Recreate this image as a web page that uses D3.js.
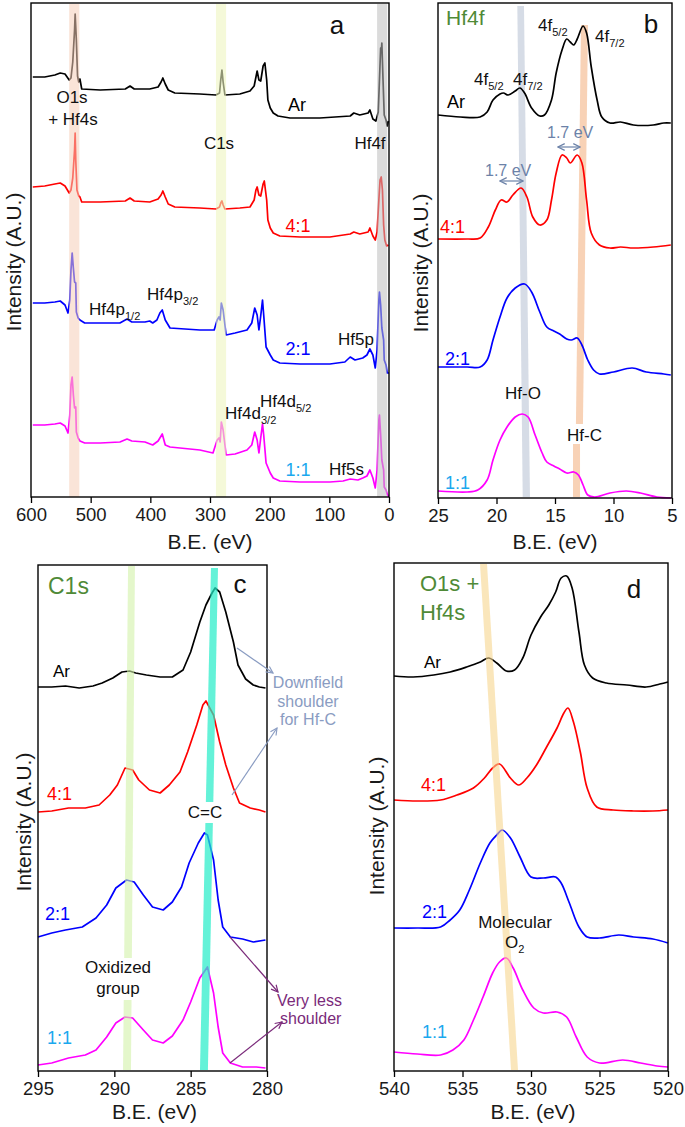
<!DOCTYPE html>
<html><head><meta charset="utf-8">
<script src="https://cdn.jsdelivr.net/npm/d3@7"></script>
<style>body{margin:0;background:#fff} svg{display:block;font-family:"Liberation Sans",Arial,sans-serif}</style>
</head><body><script>
// ---------- categories ----------
const samples = ["Ar", "4:1", "2:1", "1:1"];
const sampleColors = ["#000000", "#ff0000", "#0000ff", "#ff00ff"];
const labelColors = ["#000000", "#ff0000", "#0000ff", "#1aa8ee"];

// ---------- tick labels ----------
const ticksA = [600, 500, 400, 300, 200, 100, 0];
const ticksB = [25, 20, 15, 10, 5];
const ticksC = [295, 290, 285, 280];
const ticksD = [540, 535, 530, 525, 520];

// ---------- panel a: survey [B.E. eV, intensity a.u.] ----------
const surveyAr = [[597,420],[577,420],[560,422],[551,424],[543,423],[536,417],[533,419],[530,435],[527,467],[526,483],[524,457],[522,421],[520,415],[518,418],[515,408],[484,407],[442,408],[434,411],[427,408],[401,408],[387,410],[382,415],[379,419],[375,413],[370,407],[359,404],[317,403],[290,402],[284,404],[282,417],[280,427],[278,415],[275,402],[250,403],[233,406],[226,411],[221,426],[218,417],[215,416],[211,431],[208,434],[205,417],[203,397],[199,389],[194,384],[186,381],[166,379],[116,379],[65,381],[59,384],[49,382],[35,384],[32,387],[27,378],[22,376],[18,385],[16,417],[14,449],[13,445],[12,454],[10,417],[8,382],[5,377],[3,371],[1,376]];
const survey41 = [[597,310],[577,311],[560,313],[551,314],[543,311],[536,304],[533,307],[530,319],[527,347],[526,364],[525,337],[523,307],[520,301],[518,300],[515,295],[484,295],[442,296],[434,299],[427,296],[401,295],[387,298],[382,302],[379,306],[375,300],[370,293],[359,290],[317,289],[290,288],[284,290],[282,294],[280,296],[278,292],[275,288],[250,289],[233,290],[226,297],[223,307],[221,310],[218,302],[215,301],[211,313],[209,316],[205,297],[203,277],[199,269],[194,264],[183,261],[149,260],[99,260],[65,263],[59,265],[49,263],[35,265],[32,269],[27,261],[23,257],[20,265],[17,297],[15,317],[13,320],[11,307],[9,272],[7,257],[4,251],[1,252]];
const survey21 = [[597,194],[577,194],[560,195],[551,196],[543,192],[538,184],[535,197],[533,227],[531,244],[529,229],[527,215],[525,214],[524,185],[521,179],[518,177],[510,174],[484,174],[451,174],[439,178],[431,175],[409,175],[401,176],[396,174],[389,177],[384,184],[380,187],[375,177],[367,169],[317,167],[293,167],[288,177],[285,180],[283,177],[281,194],[278,187],[273,162],[258,164],[238,167],[230,174],[225,189],[221,182],[218,167],[215,181],[212,197],[210,182],[206,150],[199,142],[194,137],[183,134],[149,133],[99,133],[74,135],[65,140],[57,137],[44,139],[37,142],[32,148],[27,142],[23,129],[20,147],[17,197],[16,205],[14,192],[12,169],[9,157],[8,137],[5,132],[3,124],[0,124]];
const survey11 = [[597,72],[577,72],[560,73],[551,74],[543,71],[538,64],[535,82],[533,112],[531,120],[529,102],[527,89],[525,90],[524,65],[521,59],[518,56],[510,54],[484,54],[451,55],[439,58],[431,56],[409,55],[396,52],[387,56],[380,63],[375,52],[367,50],[317,47],[295,44],[288,57],[285,59],[283,55],[281,75],[278,67],[273,42],[258,43],[238,47],[230,52],[225,65],[221,57],[218,44],[215,59],[212,73],[210,62],[206,34],[199,24],[194,19],[183,16],[149,15],[99,15],[77,16],[65,18],[52,17],[44,19],[37,21],[32,27],[27,19],[23,9],[20,27],[17,77],[16,82],[14,62],[12,37],[9,27],[8,10],[5,7],[3,3],[0,0]];

// ---------- panel b: Hf4f ----------
const hf4fAr = [[25.0,383],[23.1,381],[21.4,381],[20.8,386],[20.3,398],[19.7,404],[19.4,405],[19.0,403],[18.4,407],[18.0,410],[17.6,405],[17.0,390],[16.3,382],[15.9,383],[15.3,398],[14.9,425],[14.4,448],[14.0,459],[13.7,456],[13.4,453],[13.1,459],[12.6,472],[12.3,465],[11.9,431],[11.4,398],[11.0,381],[10.3,375],[9.4,376],[8.3,373],[6.6,373],[5.7,375],[5.1,375]];
const hf4f41 = [[25.0,259],[22.5,259],[21.4,260],[20.7,271],[20.1,288],[19.6,298],[19.1,296],[18.6,303],[17.9,310],[17.4,301],[16.9,281],[16.3,273],[15.7,278],[15.3,298],[14.9,325],[14.4,343],[14.0,340],[13.7,335],[13.1,343],[12.7,335],[12.3,298],[11.9,265],[11.2,253],[10.3,250],[9.4,251],[8.3,250],[6.6,251],[5.1,253]];
const hf4f21 = [[25.0,131],[22.5,131],[21.4,131],[20.8,138],[20.3,158],[19.7,181],[19.1,200],[18.4,210],[17.6,214],[17.0,206],[16.3,186],[15.7,171],[15.1,167],[14.6,164],[14.0,159],[13.6,158],[13.1,160],[12.7,153],[12.2,138],[11.7,128],[11.2,124],[10.0,126],[8.4,130],[7.2,126],[5.7,124],[5.1,123]];
const hf4f11 = [[25.0,7],[22.5,6],[21.6,8],[20.8,18],[20.3,38],[19.7,58],[19.1,71],[18.4,81],[17.8,84],[17.3,81],[16.7,63],[16.1,45],[15.7,36],[15.1,32],[14.6,29],[14.0,25],[13.4,26],[13.0,23],[12.6,13],[12.2,3],[11.6,1],[10.3,5],[8.9,7],[7.7,5],[6.3,1],[5.1,0]];

// ---------- panel c: C1s ----------
const c1sAr = [[295.0,384],[294.1,384],[293.2,385],[292.3,383],[291.4,385],[290.8,388],[290.1,393],[289.5,399],[289.0,400],[288.6,398],[287.9,396],[287.0,394],[286.2,394],[285.5,401],[285.0,419],[284.4,449],[284.0,466],[283.6,478],[283.4,483],[283.1,479],[282.7,459],[282.2,429],[281.9,406],[281.4,392],[280.9,386],[280.5,384],[280.1,383]];
const c1s41 = [[295.0,259],[294.1,260],[293.0,263],[291.9,263],[291.0,266],[290.3,276],[289.8,286],[289.3,303],[288.8,301],[288.4,291],[287.7,281],[287.0,278],[286.4,286],[285.7,299],[285.2,319],[284.6,346],[284.2,366],[284.0,370],[283.5,356],[283.1,329],[282.7,306],[282.2,283],[281.8,268],[281.1,263],[280.5,261],[280.1,259]];
const c1s21 = [[295.0,134],[294.1,138],[293.2,141],[292.1,144],[291.2,153],[290.5,166],[289.9,183],[289.2,191],[288.7,189],[288.1,176],[287.5,164],[286.8,161],[286.2,169],[285.6,184],[285.1,208],[284.5,228],[284.1,238],[283.9,236],[283.5,211],[283.2,171],[282.9,144],[282.4,134],[281.6,132],[280.9,129],[280.1,131]];
const c1s11 = [[295.0,6],[294.1,8],[293.0,13],[291.9,16],[291.2,21],[290.5,34],[289.9,48],[289.3,54],[288.8,53],[288.1,41],[287.5,31],[286.8,28],[286.2,35],[285.5,51],[285.0,69],[284.4,93],[283.9,104],[283.5,78],[283.2,44],[282.9,18],[282.4,8],[281.6,4],[280.7,4],[280.1,3]];

// ---------- panel d: O1s + Hf4s ----------
const o1sAr = [[540,395],[538.6,394],[537.1,396],[535.9,399],[534.7,404],[533.7,409],[533.1,413],[532.5,408],[531.8,400],[531.2,401],[530.6,413],[530.0,436],[529.3,454],[528.7,466],[528.2,479],[527.8,493],[527.4,495],[527.0,483],[526.5,439],[526.1,406],[525.5,393],[524.5,388],[523.0,386],[521.6,384],[520.6,387],[520.0,389]];
const o1s41 = [[540,271],[538.3,270],[536.6,271],[535.4,276],[534.2,283],[533.4,293],[532.8,303],[532.3,307],[531.5,293],[530.9,286],[530.3,293],[529.6,306],[528.9,323],[528.1,343],[527.6,358],[527.3,363],[526.9,349],[526.4,319],[525.9,283],[525.2,264],[524.0,261],[522.5,260],[521.1,260],[520.0,261]];
const o1s21 = [[540,143],[538.3,143],[536.6,144],[535.9,151],[535.2,161],[534.5,181],[533.7,208],[533.0,228],[532.5,236],[532.1,241],[531.5,233],[530.8,214],[530.0,194],[529.1,193],[528.2,194],[527.8,188],[527.2,168],[526.5,144],[525.9,134],[525.0,133],[523.6,136],[522.5,134],[521.1,132],[520.0,128]];
const o1s11 = [[540,19],[538.3,17],[536.6,16],[535.7,21],[534.9,31],[534.2,51],[533.5,74],[532.8,98],[532.3,109],[531.8,113],[531.3,103],[530.6,81],[529.8,63],[529.1,58],[528.1,59],[527.4,54],[526.7,34],[525.9,14],[525.0,8],[523.3,11],[522.0,8],[520.8,5],[520.0,4]];

// ---------- highlighted B.E. bands [eV at top left, top right, bottom left, bottom right] ----------
const bandsA = [[536,519,536,519],[290,273,290,273],[20,3,20,3]];
const bandsB = [[18.22,17.65,17.76,17.14]];
const bandsBorange = [[12.78,12.18,13.21,12.61],[13.46,12.86,13.46,12.86]];
const bandsC = [[289.1,288.65,289.43,288.91],[283.67,283.21,284.39,283.87]];
const bandsD = [[533.72,533.21,531.46,530.95]];

// =====================================================
const W = 685, H = 1127;
const FS = 17;           // annotation font size
const FS_S = 18;         // sample label font size
const svg = d3.select("body").append("svg").attr("width", W).attr("height", H);
const defs = svg.append("defs");
function marker(id, color){
  defs.append("marker").attr("id", id).attr("viewBox","0 0 10 10").attr("refX",9).attr("refY",5)
    .attr("markerWidth",7).attr("markerHeight",7).attr("orient","auto-start-reverse")
    .append("path").attr("d","M1,1 L9,5 L1,9").attr("fill","none").attr("stroke",color).attr("stroke-width",1.4);
}
marker("arrGray", "#8a9cc2");
marker("arrPurple", "#7a2a7a");
marker("arrSlate", "#6c82a8");

function panel(cfg){
  const x = d3.scaleLinear().domain(cfg.xDomain).range([cfg.left, cfg.right]);
  const y = d3.scaleLinear().domain(cfg.yDomain).range([cfg.bottom, cfg.top]);
  const g = svg.append("g");
  const line = d3.line().x(d => x(d[0])).y(d => y(d[1])).curve(cfg.curve);
  function drawBands(list, color, op, yTop, yBot){
    list.forEach(b => {
      g.append("path")
        .attr("d", `M${x(b[0])},${yTop} L${x(b[1])},${yTop} L${x(b[3])},${yBot} L${x(b[2])},${yBot} Z`)
        .attr("fill", color).attr("opacity", op);
    });
  }
  cfg.under && cfg.under(drawBands, x, y, g);
  cfg.series.forEach((s, i) => {
    g.append("path").datum(s).attr("d", line).attr("fill", "none")
      .attr("stroke", sampleColors[i]).attr("stroke-width", 1.7).attr("stroke-linejoin","round");
  });
  cfg.over && cfg.over(drawBands, x, y, g);
  g.append("rect").attr("x", cfg.left).attr("y", cfg.top)
    .attr("width", cfg.right - cfg.left).attr("height", cfg.bottom - cfg.top)
    .attr("fill", "none").attr("stroke", "#000").attr("stroke-width", 1.4);
  const ax = g.append("g").attr("transform", `translate(0,${cfg.bottom})`)
    .call(d3.axisBottom(x).tickValues(cfg.ticks).tickSize(6).tickPadding(5).tickFormat(d3.format("d")));
  ax.select(".domain").remove();
  ax.selectAll("line").attr("stroke", "#000").attr("stroke-width", 1.3);
  ax.selectAll("text").attr("font-size", 18.5).attr("fill", "#1a1a1a").attr("font-family", "Liberation Sans, Arial, sans-serif");
  g.append("text").attr("x", (cfg.left + cfg.right) / 2 + (cfg.xlabDx || 0)).attr("y", cfg.xlabY)
    .attr("text-anchor", "middle").attr("font-size", 21).attr("fill", "#1a1a1a").text("B.E. (eV)");
  g.append("text").attr("transform", `translate(${cfg.ylabX},${cfg.ylabY}) rotate(-90)`)
    .attr("text-anchor", "middle").attr("font-size", 21).attr("fill", "#1a1a1a").text("Intensity (A.U.)");
  return g;
}

function txt(g, x, y, parts, opts = {}){
  const size = opts.size || FS;
  const t = g.append("text").attr("x", x).attr("y", y)
    .attr("font-size", size).attr("fill", opts.color || "#111")
    .attr("text-anchor", opts.anchor || "start");
  let sub = false;
  parts.forEach(p => {
    const isSub = Array.isArray(p);
    const s = isSub ? p[0] : p;
    const ts = t.append("tspan").text(s);
    if (isSub && !sub) { ts.attr("dy", 5).attr("font-size", size * 0.65); sub = true; }
    else if (isSub) { ts.attr("font-size", size * 0.65); }
    else if (!isSub && sub) { ts.attr("dy", -5); sub = false; }
  });
  return t;
}
function arrow(g, x1, y1, x2, y2, color, id, both){
  const l = g.append("line").attr("x1", x1).attr("y1", y1).attr("x2", x2).attr("y2", y2)
    .attr("stroke", color).attr("stroke-width", 1.2).attr("marker-end", `url(#${id})`);
  if (both) l.attr("marker-start", `url(#${id})`);
}

// ---------------- Panel a ----------------
const gA = panel({
  xDomain: [600, 0], left: 31, right: 389, yDomain: [0, 494], top: 3, bottom: 497,
  series: [surveyAr, survey41, survey21, survey11], curve: d3.curveLinear, ticks: ticksA,
  xlabY: 549, xlabDx: 0, ylabX: 21, ylabY: 262,
  over: (draw) => {
    draw([bandsA[0]], "#f5cdb8", 0.55, 4, 497);
    draw([bandsA[1]], "#eef5bf", 0.6, 4, 497);
    draw([bandsA[2]], "#bdbdbd", 0.55, 4, 497);
  }
});
txt(gA, 337, 34, ["a"], {size: 26, anchor: "middle"});
txt(gA, 72, 103, ["O1s"], {anchor: "middle"});
txt(gA, 73, 125, ["+ Hf4s"], {anchor: "middle"});
txt(gA, 297, 111, [samples[0]], {anchor: "middle", size: FS_S, color: labelColors[0]});
txt(gA, 219, 149, ["C1s"], {anchor: "middle"});
txt(gA, 370, 149, ["Hf4f"], {anchor: "middle"});
txt(gA, 298, 232, [samples[1]], {anchor: "middle", size: FS_S, color: labelColors[1]});
txt(gA, 89, 315, ["Hf4p", ["1/2"]]);
txt(gA, 147, 300, ["Hf4p", ["3/2"]]);
txt(gA, 298, 355, [samples[2]], {anchor: "middle", size: FS_S, color: labelColors[2]});
txt(gA, 338, 345, ["Hf5p"]);
txt(gA, 260, 407, ["Hf4d", ["5/2"]]);
txt(gA, 225, 419, ["Hf4d", ["3/2"]]);
txt(gA, 298, 476, [samples[3]], {anchor: "middle", size: FS_S, color: labelColors[3]});
txt(gA, 329, 475, ["Hf5s"]);

// ---------------- Panel b ----------------
const gB = panel({
  xDomain: [25, 5], left: 438, right: 672, yDomain: [0, 495], top: 3, bottom: 498,
  series: [hf4fAr, hf4f41, hf4f21, hf4f11], curve: d3.curveCatmullRom.alpha(0.5), ticks: ticksB,
  xlabY: 549, xlabDx: 0, ylabX: 428, ylabY: 263,
  under: (draw, x, y, g) => {
    draw(bandsB, "#d6dce6", 1, 6, 497);
    draw([bandsBorange[0]], "#f8d2b6", 1, 25, 424);
    draw([bandsBorange[1]], "#f8d2b6", 1, 444, 497);
  }
});
txt(gB, 446, 25, ["Hf4f"], {size: 21, color: "#4f8a37"});
txt(gB, 651, 33, ["b"], {size: 26, anchor: "middle"});
txt(gB, 538, 31, ["4f", ["5/2"]]);
txt(gB, 595, 42, ["4f", ["7/2"]]);
txt(gB, 474, 85, ["4f", ["5/2"]]);
txt(gB, 513, 85, ["4f", ["7/2"]]);
txt(gB, 447, 108, [samples[0]], {size: FS_S, color: labelColors[0]});
txt(gB, 547, 138, ["1.7 eV"], {size: 16, color: "#6c82a8"});
arrow(gB, 558, 147, 580, 147, "#6c82a8", "arrSlate", true);
txt(gB, 485, 176, ["1.7 eV"], {size: 16, color: "#6c82a8"});
arrow(gB, 500, 181, 523, 181, "#6c82a8", "arrSlate", true);
txt(gB, 440, 233, [samples[1]], {size: FS_S, color: labelColors[1]});
txt(gB, 445, 365, [samples[2]], {size: FS_S, color: labelColors[2]});
txt(gB, 505, 399, ["Hf-O"]);
txt(gB, 567, 441, ["Hf-C"]);
txt(gB, 445, 489, [samples[3]], {size: FS_S, color: labelColors[3]});

// ---------------- Panel c ----------------
const gC = panel({
  xDomain: [295, 280], left: 38, right: 267, yDomain: [0, 506], top: 565, bottom: 1071,
  series: [c1sAr, c1s41, c1s21, c1s11], curve: d3.curveLinear, ticks: ticksC,
  xlabY: 1119, xlabDx: 2, ylabX: 31, ylabY: 822,
  over: (draw, x, y, g) => {
    draw([bandsC[0]], "#d2f2a8", 0.6, 566, 1070);
    draw([bandsC[1]], "#22ecc8", 0.7, 568, 1070);
    g.append("rect").attr("x", 82).attr("y", 958).attr("width", 74).attr("height", 42).attr("fill", "#fff");
    g.append("rect").attr("x", 184).attr("y", 802).attr("width", 42).attr("height", 21).attr("fill", "#fff");
  }
});
txt(gC, 48, 594, ["C1s"], {size: 23, color: "#4f8a37"});
txt(gC, 240, 593, ["c"], {size: 26, anchor: "middle"});
txt(gC, 53, 677, [samples[0]], {size: 17, color: labelColors[0]});
txt(gC, 47, 800, [samples[1]], {size: FS_S, color: labelColors[1]});
txt(gC, 205, 818, ["C=C"], {anchor: "middle"});
txt(gC, 308, 688, ["Downfield"], {size: 16, anchor: "middle", color: "#8a9cc2"});
txt(gC, 308, 707, ["shoulder"], {size: 16, anchor: "middle", color: "#8a9cc2"});
txt(gC, 308, 725, ["for Hf-C"], {size: 16, anchor: "middle", color: "#8a9cc2"});
arrow(gC, 237, 648, 273, 673, "#8a9cc2", "arrGray");
arrow(gC, 232, 795, 277, 728, "#8a9cc2", "arrGray");
txt(gC, 45, 920, [samples[2]], {size: FS_S, color: labelColors[2]});
txt(gC, 118, 973, ["Oxidized"], {anchor: "middle"});
txt(gC, 118, 994, ["group"], {anchor: "middle"});
txt(gC, 47, 1044, [samples[3]], {size: FS_S, color: labelColors[3]});
txt(gC, 277, 1006, ["Very less"], {size: 16, color: "#7a2a7a"});
txt(gC, 280, 1024, ["shoulder"], {size: 16, color: "#7a2a7a"});
arrow(gC, 230, 937, 278, 992, "#7a2a7a", "arrPurple");
arrow(gC, 230, 1063, 282, 1022, "#7a2a7a", "arrPurple");

// ---------------- Panel d ----------------
const gD = panel({
  xDomain: [540, 520], left: 394, right: 668, yDomain: [0, 508], top: 563, bottom: 1071,
  series: [o1sAr, o1s41, o1s21, o1s11], curve: d3.curveCatmullRom.alpha(0.5), ticks: ticksD,
  xlabY: 1119, xlabDx: 2, ylabX: 384, ylabY: 826,
  over: (draw) => { draw(bandsD, "#f6d58e", 0.6, 564, 1070); }
});
txt(gD, 420, 591, ["O1s +"], {size: 22, color: "#4f8a37"});
txt(gD, 420, 620, ["Hf4s"], {size: 22, color: "#4f8a37"});
txt(gD, 634, 598, ["d"], {size: 26, anchor: "middle"});
txt(gD, 424, 668, [samples[0]], {size: 17, color: labelColors[0]});
txt(gD, 421, 791, [samples[1]], {size: FS_S, color: labelColors[1]});
txt(gD, 422, 918, [samples[2]], {size: FS_S, color: labelColors[2]});
txt(gD, 515, 928, ["Molecular"], {anchor: "middle"});
txt(gD, 505, 948, ["O", ["2"]]);
txt(gD, 422, 1038, [samples[3]], {size: FS_S, color: labelColors[3]});
</script></body></html>
